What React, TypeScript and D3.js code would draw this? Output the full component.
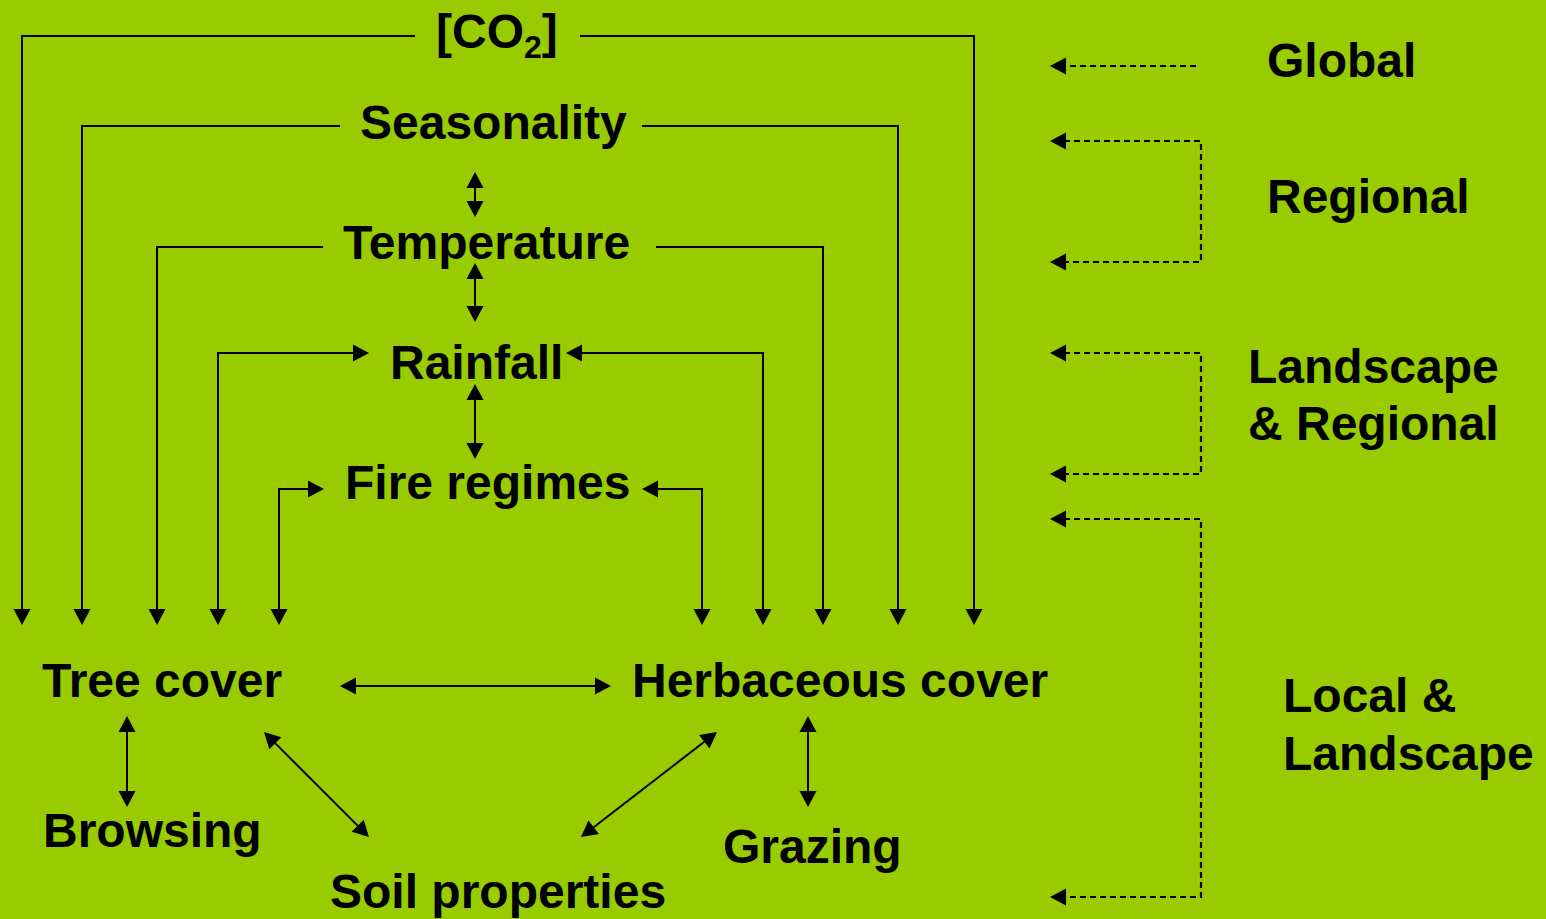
import React from "react";
import * as d3 from "d3";

const W = 1546;
const H = 919;

// ---- content ----
const driverLabels = ["Seasonality", "Temperature", "Rainfall", "Fire regimes"];
const coverLabels = ["Tree cover", "Herbaceous cover"];
const responseLabels = ["Browsing", "Soil properties", "Grazing"];
const scaleLabels = [["Global"], ["Regional"], ["Landscape", "& Regional"], ["Local &", "Landscape"]];

// ---- layout (pixel positions of the diagram) ----
const labelPos: Record<string, [number, number]> = {
  "Seasonality": [360, 139],
  "Temperature": [343, 259],
  "Rainfall": [390, 379],
  "Fire regimes": [345, 499],
  "Tree cover": [42, 697],
  "Herbaceous cover": [632, 697],
  "Browsing": [43, 847],
  "Soil properties": [330, 908],
  "Grazing": [723, 863],
};
const scalePos: [number, number, number][] = [
  [1267, 77, 0],
  [1267, 213, 0],
  [1248, 383, 57],
  [1283, 712, 58],
];

type Link = { pts: [number, number][]; start: boolean; end: boolean; dashed?: boolean };

const links: Link[] = [
  // [CO2]
  { pts: [[415, 36], [22, 36], [22, 625]], start: false, end: true },
  { pts: [[580, 36], [974, 36], [974, 625]], start: false, end: true },
  // Seasonality
  { pts: [[340, 126], [82, 126], [82, 625]], start: false, end: true },
  { pts: [[642, 126], [898, 126], [898, 625]], start: false, end: true },
  // Temperature
  { pts: [[323, 247], [157, 247], [157, 625]], start: false, end: true },
  { pts: [[656, 247], [823, 247], [823, 625]], start: false, end: true },
  // Rainfall
  { pts: [[369, 353], [218, 353], [218, 625]], start: true, end: true },
  { pts: [[566, 353], [763, 353], [763, 625]], start: true, end: true },
  // Fire regimes
  { pts: [[324, 489], [279, 489], [279, 625]], start: true, end: true },
  { pts: [[642, 489], [702, 489], [702, 625]], start: true, end: true },
  // vertical chain
  { pts: [[475, 172], [475, 217]], start: true, end: true },
  { pts: [[475, 263], [475, 322]], start: true, end: true },
  { pts: [[475, 384], [475, 459]], start: true, end: true },
  // bottom
  { pts: [[340, 686], [611, 686]], start: true, end: true },
  { pts: [[127, 716], [127, 807]], start: true, end: true },
  { pts: [[264, 732], [369, 837]], start: true, end: true },
  { pts: [[717, 732], [581, 837]], start: true, end: true },
  { pts: [[808, 716], [808, 807]], start: true, end: true },
  // scale brackets (dashed)
  { pts: [[1196, 66], [1050, 66]], start: false, end: true, dashed: true },
  { pts: [[1050, 141], [1201, 141], [1201, 262], [1050, 262]], start: true, end: true, dashed: true },
  { pts: [[1050, 353], [1201, 353], [1201, 474], [1050, 474]], start: true, end: true, dashed: true },
  { pts: [[1050, 519], [1201, 519], [1201, 897], [1050, 897]], start: true, end: true, dashed: true },
];

const HEAD_L = 16;
const HEAD_W = 8.5;

function head(tip: [number, number], from: [number, number]) {
  const dx = tip[0] - from[0];
  const dy = tip[1] - from[1];
  const len = Math.hypot(dx, dy) || 1;
  const ux = dx / len, uy = dy / len;
  const bx = tip[0] - ux * HEAD_L, by = tip[1] - uy * HEAD_L;
  const px = -uy, py = ux;
  const tri: [number, number][] = [
    tip,
    [bx + px * HEAD_W, by + py * HEAD_W],
    [bx - px * HEAD_W, by - py * HEAD_W],
  ];
  return { tri, base: [bx + ux * 2, by + uy * 2] as [number, number] };
}

const lineGen = d3.line<[number, number]>().x((d) => d[0]).y((d) => d[1]);

const FONT = "'Liberation Sans', Arial, Helvetica, sans-serif";
const FS = 48;

export default function App() {
  return (
    <svg
      width={W}
      height={H}
      style={{ position: "absolute", left: 0, top: 0, display: "block" }}
      fontFamily={FONT}
      fontWeight="bold"
      fontSize={FS}
    >
      <rect x={0} y={0} width={W} height={H} fill="#99CC00" />
      {links.map((l, i) => {
        const pts = l.pts.map((p) => [p[0], p[1]] as [number, number]);
        const heads: [number, number][][] = [];
        if (l.end) {
          const n = pts.length;
          const h = head(pts[n - 1], pts[n - 2]);
          heads.push(h.tri);
          pts[n - 1] = h.base;
        }
        if (l.start) {
          const h = head(pts[0], pts[1]);
          heads.push(h.tri);
          pts[0] = h.base;
        }
        return (
          <g key={i}>
            <path
              d={lineGen(pts) || ""}
              fill="none"
              stroke="#000"
              strokeWidth={l.dashed ? 2.2 : 2}
              strokeDasharray={l.dashed ? "6 4" : undefined}
            />
            {heads.map((t, j) => (
              <path key={j} d={(lineGen(t) || "") + "Z"} fill="#000" />
            ))}
          </g>
        );
      })}
      {/* [CO2] */}
      <text x={436} y={48} fill="#000">
        [CO<tspan fontSize={32} dy={10}>2</tspan>
        <tspan dy={-10}>]</tspan>
      </text>
      {[...driverLabels, ...coverLabels, ...responseLabels].map((t) => (
        <text key={t} x={labelPos[t][0]} y={labelPos[t][1]} fill="#000">
          {t}
        </text>
      ))}
      {scaleLabels.map((lines, i) => (
        <text key={i} x={scalePos[i][0]} y={scalePos[i][1]} fill="#000">
          {lines.map((s, j) => (
            <tspan key={j} x={scalePos[i][0]} dy={j === 0 ? 0 : scalePos[i][2]}>
              {s}
            </tspan>
          ))}
        </text>
      ))}
    </svg>
  );
}
